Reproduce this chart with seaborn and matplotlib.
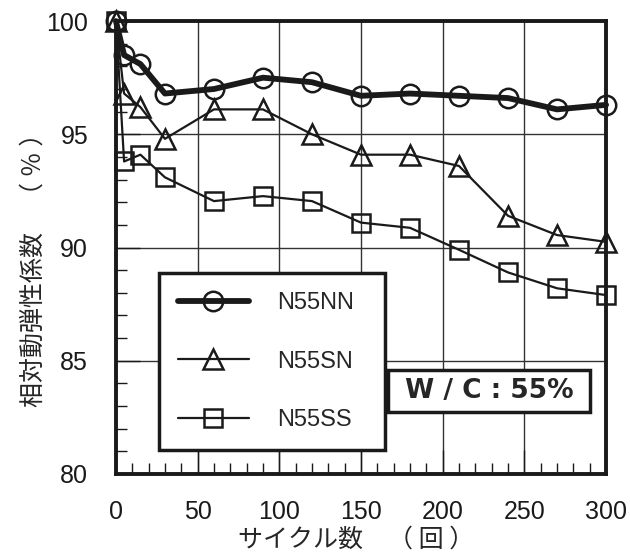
import matplotlib
matplotlib.use("Agg")
import matplotlib.pyplot as plt
import seaborn as sns
import pandas as pd
from matplotlib.ticker import MultipleLocator

# cycles and relative dynamic modulus (%)
cycles = [0, 5, 15, 30, 60, 90, 120, 150, 180, 210, 240, 270, 300]
nn = [100, 98.5, 98.1, 96.8, 97.0, 97.5, 97.3, 96.7, 96.8, 96.7, 96.6, 96.1, 96.3]
sn = [100, 96.8, 96.2, 94.8, 96.1, 96.1, 95.0, 94.1, 94.1, 93.6, 91.4, 90.55, 90.25]
ss = [100, 93.8, 94.1, 93.1, 92.05, 92.27, 92.05, 91.1, 90.87, 89.9, 88.9, 88.2, 87.9]
names = ["N55NN", "N55SN", "N55SS"]

df = pd.DataFrame({"cycles": cycles * 3,
                   "value": nn + sn + ss,
                   "series": [n for n in names for _ in cycles]})

sns.set_style("ticks")
plt.rcParams['font.family'] = ['Liberation Sans', 'Noto Sans CJK JP', 'DejaVu Sans']

fig = plt.figure(figsize=(6.3, 5.53), dpi=100)
ax = fig.add_axes([0.184, 0.1429, 0.778, 0.819])

styles = {"N55NN": dict(marker="o", lw=4.2, ms=14),
          "N55SN": dict(marker="^", lw=1.6, ms=14),
          "N55SS": dict(marker="s", lw=1.6, ms=13)}

for name in names:
    st = styles[name]
    sns.lineplot(data=df[df.series == name], x="cycles", y="value", ax=ax,
                 color="#1a1a1a", linewidth=st["lw"], marker=st["marker"],
                 markersize=st["ms"], markerfacecolor="none",
                 markeredgecolor="#1a1a1a", markeredgewidth=1.8,
                 label=name, clip_on=False, zorder=3)

ax.set_xlim(0, 300)
ax.set_ylim(80, 100)
ax.xaxis.set_major_locator(MultipleLocator(50))
ax.xaxis.set_minor_locator(MultipleLocator(10))
ax.yaxis.set_major_locator(MultipleLocator(5))
ax.yaxis.set_minor_locator(MultipleLocator(1))
ax.grid(True, which="major", color="#333333", linewidth=1.0)
ax.tick_params(which="both", direction="in", colors="#1a1a1a", labelsize=18,
               labelcolor="#1a1a1a")
ax.tick_params(which="major", length=17, width=1.0)
ax.tick_params(which="minor", length=8, width=1.0)
ax.tick_params(axis="y", pad=20)
ax.tick_params(axis="x", pad=19)
for sp in ax.spines.values():
    sp.set_linewidth(2.8)
    sp.set_color("#1a1a1a")

ax.set_xlabel("サイクル数　（ 回 ）", fontsize=18,
              family=['Noto Sans CJK JP', 'DejaVu Sans'])
ax.set_ylabel("相対動弾性係数　（ ％ ）", fontsize=18,
              family=['Noto Sans CJK JP', 'DejaVu Sans'])
ax.xaxis.set_label_coords(0.49, -0.117)
ax.yaxis.set_label_coords(-0.141, 0.4636)

leg = ax.legend(loc="upper left", bbox_to_anchor=(0.0878, 0.053, 0.461, 0.391),
                mode="expand", borderaxespad=0, frameon=True, fancybox=False,
                edgecolor="#1a1a1a", framealpha=1,
                handlelength=3.0, handletextpad=1.2, labelspacing=1.56,
                borderpad=0.8,
                prop={"family": ["Liberation Sans Narrow", "Liberation Sans"], "size": 17})
leg.get_frame().set_linewidth(2.5)

ax.text(0.761, 0.183, " W / C : 55% ", transform=ax.transAxes, ha="center",
        va="center", fontsize=19, fontweight="bold", family="DejaVu Sans",
        bbox=dict(boxstyle="square,pad=0.3", fc="white", ec="#1a1a1a", lw=2.5),
        zorder=5)

fig.savefig("out.png", dpi=100)
